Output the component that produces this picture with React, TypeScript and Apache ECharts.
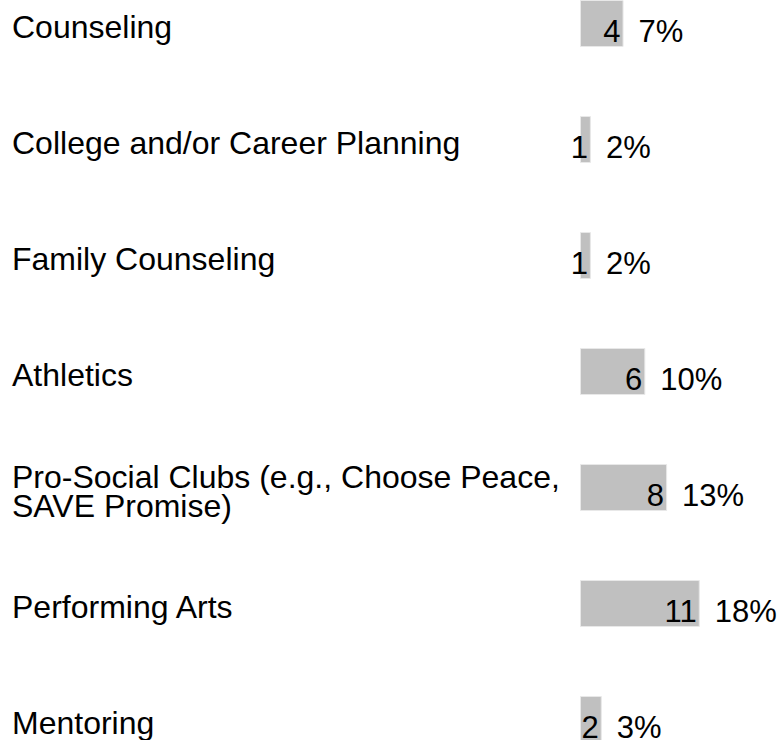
import React, { useEffect, useRef } from "react";
import * as echarts from "echarts";

const categories = [
  "Counseling",
  "College and/or Career Planning",
  "Family Counseling",
  "Athletics",
  "Pro-Social Clubs (e.g., Choose Peace, SAVE Promise)",
  "Performing Arts",
  "Mentoring",
];
const counts = [4, 1, 1, 6, 8, 11, 2];
const percents = ["7%", "2%", "2%", "10%", "13%", "18%", "3%"];

const FONT = "'Liberation Sans', Arial, Helvetica, sans-serif";

export default function App() {
  const ref = useRef<HTMLDivElement>(null);
  useEffect(() => {
    if (!ref.current) return;
    const chart = echarts.init(ref.current, undefined, { renderer: "svg" });
    chart.setOption({
      animation: false,
      backgroundColor: "#ffffff",
      textStyle: { fontFamily: FONT },
      grid: [
        { left: 580, top: -34.5, width: 196, height: 812, outerBoundsMode: "none", containLabel: false },
        { left: 580, top: -31, width: 196, height: 812, outerBoundsMode: "none", containLabel: false },
      ],
      xAxis: [
        { type: "value", min: 0, max: 18, show: false, gridIndex: 0 },
        { type: "value", min: 0, max: 18, show: false, gridIndex: 1 },
      ],
      yAxis: [
        {
          type: "category",
          data: categories,
          inverse: true,
          gridIndex: 0,
          axisLine: { show: false },
          axisTick: { show: false },
          splitLine: { show: false },
          axisLabel: { show: false },
        },
        {
          type: "category",
          data: categories,
          inverse: true,
          gridIndex: 1,
          axisLine: { show: false },
          axisTick: { show: false },
          splitLine: { show: false },
          axisLabel: {
            align: "left",
            margin: 568,
            width: 560,
            overflow: "break",
            fontSize: 32,
            lineHeight: 29,
            color: "#000",
            fontFamily: FONT,
          },
        },
      ],
      series: [
        {
          type: "bar",
          xAxisIndex: 0,
          yAxisIndex: 0,
          data: counts,
          barWidth: 47,
          itemStyle: { color: "#c0c0c0", borderColor: "#e8e8e8", borderWidth: 1 },
          label: {
            show: true,
            position: "insideRight",
            distance: 3,
            offset: [0, 8],
            fontSize: 31,
            color: "#000",
            fontFamily: FONT,
            formatter: (p: any) => String(p.value),
          },
        },
        {
          type: "bar",
          xAxisIndex: 0,
          yAxisIndex: 0,
          data: counts,
          barWidth: 47,
          barGap: "-100%",
          silent: true,
          itemStyle: { color: "transparent" },
          label: {
            show: true,
            position: "right",
            distance: 15,
            offset: [0, 8],
            fontSize: 31,
            color: "#000",
            fontFamily: FONT,
            formatter: (p: any) => percents[p.dataIndex],
          },
        },
      ],
    });
    return () => chart.dispose();
  }, []);
  return (
    <div
      ref={ref}
      style={{ position: "fixed", left: 0, top: 0, width: 782, height: 740 }}
    />
  );
}
